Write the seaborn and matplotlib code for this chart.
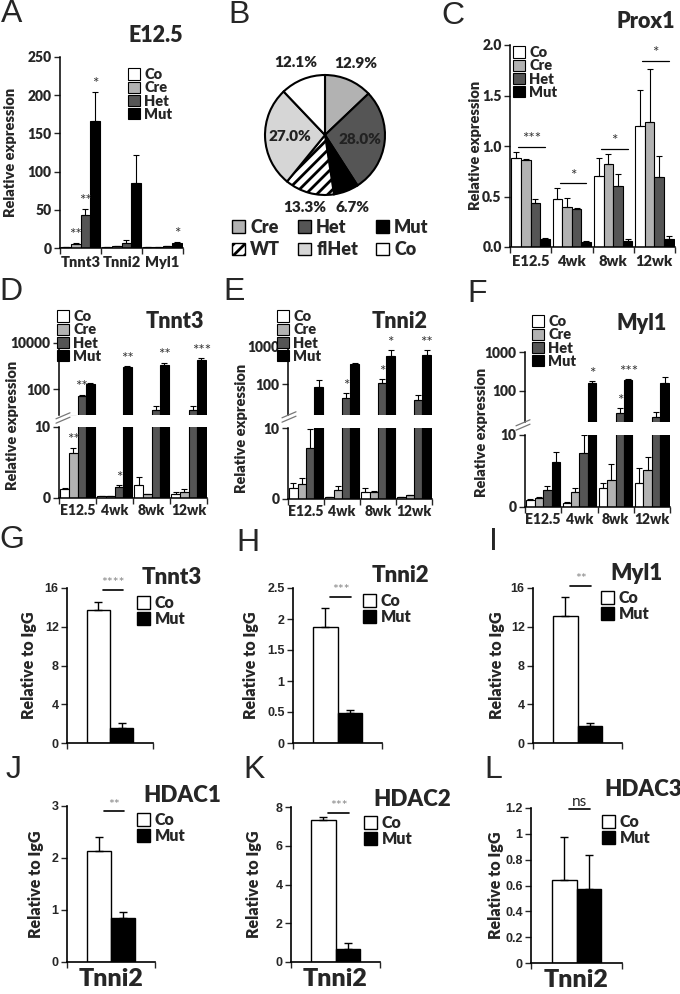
import numpy as np
import pandas as pd
import matplotlib
matplotlib.use('Agg')
import matplotlib.pyplot as plt
from matplotlib.patches import Patch
from matplotlib.lines import Line2D
from matplotlib.ticker import NullLocator
import seaborn as sns

# ---------------- data ----------------
genos = ['Co', 'Cre', 'Het', 'Mut']
geno_colors = ['#ffffff', '#b2b2b2', '#555555', '#000000']

# A: E12.5 expression
a_genes = ['Tnnt3', 'Tnni2', 'Myl1']
a_mean = {'Co': [1.0, 1.0, 1.0], 'Cre': [5.5, 2.0, 1.0], 'Het': [43, 7.0, 2.0], 'Mut': [166, 85, 6.0]}
a_err = {'Co': [0.3, 0.3, 0.2], 'Cre': [1.5, 0.8, 0.3], 'Het': [8, 3.0, 0.7], 'Mut': [38, 37, 2.0]}
a_stars = [('Tnnt3', 'Cre', '**'), ('Tnnt3', 'Het', '**'), ('Tnnt3', 'Mut', '*'), ('Myl1', 'Mut', '*')]

# B: genotype distribution
pie_labels = ['Cre', 'Het', 'Mut', 'WT', 'flHet', 'Co']
pie_pct = [12.9, 28.0, 6.7, 13.3, 27.0, 12.1]
pie_colors = ['#b2b2b2', '#555555', '#000000', '#ffffff', '#d6d6d6', '#ffffff']

# C: Prox1
ages = ['E12.5', '4wk', '8wk', '12wk']
c_mean = {'Co': [0.88, 0.48, 0.70, 1.20], 'Cre': [0.86, 0.40, 0.82, 1.24],
          'Het': [0.44, 0.38, 0.60, 0.69], 'Mut': [0.08, 0.05, 0.06, 0.08]}
c_err = {'Co': [0.06, 0.10, 0.18, 0.35], 'Cre': [0.01, 0.09, 0.10, 0.52],
         'Het': [0.04, 0.005, 0.12, 0.21], 'Mut': [0.01, 0.005, 0.02, 0.03]}
c_sig_y = [0.99, 0.63, 0.97, 1.84]
c_sig = ['***', '*', '*', '*']

# D: Tnnt3
d_mean = {'Co': [1.2, 0.3, 1.8, 0.5], 'Cre': [6.3, 0.3, 0.5, 0.8],
          'Het': [52, 1.5, 12.6, 13], 'Mut': [175, 940, 1100, 1900]}
d_err = {'Co': [0.2, 0.05, 1.2, 0.3], 'Cre': [0.8, 0.05, 0.1, 0.4],
         'Het': [8, 0.3, 6.5, 6], 'Mut': [18, 60, 290, 300]}
d_stars = [('E12.5', 'Cre', '**'), ('E12.5', 'Het', '**'), ('4wk', 'Het', '*'),
           ('4wk', 'Mut', '**'), ('8wk', 'Mut', '**'), ('12wk', 'Mut', '***')]

# E: Tnni2
e_mean = {'Co': [1.6, 0.3, 1.0, 0.3], 'Cre': [2.1, 1.3, 1.0, 0.5],
          'Het': [7.2, 42, 110, 38], 'Mut': [87, 360, 565, 600]}
e_err = {'Co': [0.6, 0.05, 0.5, 0.05], 'Cre': [0.9, 0.6, 0.1, 0.1],
         'Het': [2.7, 15, 25, 14], 'Mut': [43, 15, 250, 215]}
e_stars = [('4wk', 'Het', '*'), ('8wk', 'Het', '*'), ('8wk', 'Mut', '*'), ('12wk', 'Mut', '**')]

# F: Myl1
f_mean = {'Co': [1.0, 0.6, 2.7, 3.3], 'Cre': [1.2, 2.1, 3.8, 5.2],
          'Het': [2.3, 7.5, 27, 22], 'Mut': [6.3, 157, 190, 157]}
f_err = {'Co': [0.05, 0.1, 0.6, 2.1], 'Cre': [0.15, 0.5, 2.2, 1.7],
         'Het': [0.6, 2.5, 9, 7], 'Mut': [1.3, 20, 8, 70]}
f_stars = [('4wk', 'Mut', '*'), ('8wk', 'Het', '*'), ('8wk', 'Mut', '***')]

# G-L: ChIP, relative to IgG
chip_titles = ['Tnnt3', 'Tnni2', 'Myl1', 'HDAC1', 'HDAC2', 'HDAC3']
chip_xlabel = ['', '', '', 'Tnni2', 'Tnni2', 'Tnni2']
chip_co = [13.7, 1.87, 13.1, 2.13, 7.32, 0.645]
chip_co_err = [0.9, 0.30, 2.0, 0.28, 0.15, 0.33]
chip_mut = [1.6, 0.49, 1.8, 0.84, 0.65, 0.57]
chip_mut_err = [0.5, 0.05, 0.3, 0.12, 0.35, 0.265]
chip_sig = ['****', '***', '**', '**', '***', 'ns']
chip_sig_y = [15.8, 2.36, 16.2, 2.90, 7.71, 1.19]
chip_ymax = [16, 2.5, 16, 3, 8, 1.2]
chip_ystep = [4, 0.5, 4, 1, 2, 0.2]

# ---------------- style ----------------
W, H = 680, 994
sns.set_style('ticks')
plt.rcParams['font.family'] = ['Lato', 'DejaVu Sans']
plt.rcParams['hatch.linewidth'] = 2.0
ARIAL = ['Liberation Sans', 'DejaVu Sans']
BW = 'heavy'

fig = plt.figure(figsize=(W / 100, H / 100), dpi=100)


def add_ax(x0, y0, x1, y1):
    return fig.add_axes([x0 / W, 1 - y1 / H, (x1 - x0) / W, (y1 - y0) / H])


def fxy(x, y):
    return x / W, 1 - y / H


def grouped_bars(ax, cats, mean, err, width=0.93):
    df = pd.DataFrame([(c, g, mean[g][i]) for g in genos for i, c in enumerate(cats)],
                      columns=['cat', 'geno', 'val'])
    sns.barplot(data=df, x='cat', y='val', hue='geno', order=cats, hue_order=genos,
                palette=geno_colors, saturation=1, edgecolor='black', linewidth=0.8,
                errorbar=None, width=width, legend=False, ax=ax)
    tops = {}
    for g, cont in zip(genos, list(ax.containers)):
        for i, bar in enumerate(cont):
            x = bar.get_x() + bar.get_width() / 2
            ax.errorbar(x, mean[g][i], yerr=[[0], [err[g][i]]], fmt='none', ecolor='black',
                        elinewidth=0.8, capsize=2, capthick=0.8)
            tops[(cats[i], g)] = (x, mean[g][i] + err[g][i])
    return tops


def style_cat_axis(ax, cats, pad, fs=10.5):
    sns.despine(ax=ax)
    for s in ['left', 'bottom']:
        ax.spines[s].set_linewidth(1.1)
        ax.spines[s].set_color('black')
    ax.set_xlim(-0.5, len(cats) - 0.5)
    ax.set_xticks(range(len(cats)), labels=cats, fontsize=fs, fontweight=BW)
    ax.set_xticks(np.arange(len(cats) + 1) - 0.5, minor=True)
    ax.tick_params(axis='x', which='major', length=0, pad=pad)
    ax.tick_params(axis='x', which='minor', length=4, width=1, direction='out')
    ax.tick_params(axis='y', which='major', length=4, width=1, direction='out', pad=2)
    ax.set_xlabel('')


def geno_legend(ax, x, y):
    handles = [Patch(facecolor=c, edgecolor='black', linewidth=0.8) for c in geno_colors]
    ax.legend(handles, genos, loc='upper left', bbox_to_anchor=fxy(x, y),
              bbox_transform=fig.transFigure, frameon=False,
              prop={'weight': BW, 'size': 10.5}, handlelength=0.8, handleheight=0.8,
              handletextpad=0.3, labelspacing=0.02, borderpad=0, borderaxespad=0)


def star(ax, x, y, txt, fs=11, color='#333333'):
    ax.annotate(txt, (x, y), xytext=(0, 0.5), textcoords='offset points', ha='center',
                va='bottom', fontsize=fs, color=color, annotation_clip=False)


def title(x, y, txt, fs=15.5):
    fig.text(*fxy(x, y), txt, ha='center', va='center', fontsize=fs, fontweight=BW)


def ylabel(ax, txt, xpx, ypx, box, fs=10.5):
    x0, y0, x1, y1 = box
    ax.set_ylabel(txt, fontsize=fs, fontweight=BW, va='center')
    ax.yaxis.set_label_coords((xpx - x0) / (x1 - x0), (y1 - ypx) / (y1 - y0))


# ---------------- A ----------------
box = (60, 57, 183, 248)
ax = add_ax(*box)
tops = grouped_bars(ax, a_genes, a_mean, a_err)
style_cat_axis(ax, a_genes, pad=6)
ax.set_ylim(0, 250)
ax.set_yticks(range(0, 251, 50), labels=[str(v) for v in range(0, 251, 50)],
              fontsize=10, fontweight=BW)
for cat, g, txt in a_stars:
    star(ax, *tops[(cat, g)], txt)
ylabel(ax, 'Relative expression', 10, 152, box)
geno_legend(ax, 128, 68)
title(156, 35, 'E12.5')

# ---------------- B ----------------
axp = add_ax(225, 35, 425, 235)
wedges, _ = axp.pie(pie_pct, colors=pie_colors, startangle=90, counterclock=False,
                    wedgeprops=dict(edgecolor='black', linewidth=1.5))
wedges[pie_labels.index('WT')].set_hatch('///')
axp.set_xlim(-1.667, 1.667)
axp.set_ylim(-1.667, 1.667)
axp.set_aspect('equal')
label_r = [1.3, 0.58, 1.3, 1.25, 0.58, 1.3]
for w, pct, r in zip(wedges, pie_pct, label_r):
    ang = np.deg2rad((w.theta1 + w.theta2) / 2)
    axp.text(r * np.cos(ang), r * np.sin(ang), f'{pct:.1f}%', ha='center', va='center',
             fontsize=11, fontweight=BW, color='#222222')
order = [i + 3 * r for i in range(3) for r in range(2)]
pie_handles = [Patch(facecolor=pie_colors[i], edgecolor='black', linewidth=1.0,
                     hatch='///' if pie_labels[i] == 'WT' else None) for i in order]
axp.legend(pie_handles, [pie_labels[i] for i in order], ncol=3, loc='upper left',
           bbox_to_anchor=fxy(232, 219), bbox_transform=fig.transFigure, frameon=False,
           prop={'weight': BW, 'size': 13}, handlelength=0.7, handleheight=0.7,
           handletextpad=0.3, labelspacing=0.3, columnspacing=1.0, borderpad=0,
           borderaxespad=0)

# ---------------- C ----------------
box = (510, 45, 675, 247)
ax = add_ax(*box)
grouped_bars(ax, ages, c_mean, c_err)
style_cat_axis(ax, ages, pad=6)
ax.set_ylim(0, 2.0)
yt = np.arange(0, 2.01, 0.5)
ax.set_yticks(yt, labels=[f'{v:.1f}' for v in yt], fontsize=10, fontweight=BW)
for i, (y, txt) in enumerate(zip(c_sig_y, c_sig)):
    ax.plot([i - 0.3, i + 0.35], [y, y], color='black', lw=0.9)
    star(ax, i + 0.025, y, txt)
ylabel(ax, 'Relative expression', 476, 145, box)
geno_legend(ax, 513, 46)
title(646, 22, 'Prox1')


# ---------------- D-F (broken axes) ----------------
def broken_panel(up_box, lo_box, mean, err, up_lim, up_ticks, stars, lab_xy, tit, tit_xy,
                 leg_xy, brk_xy, pad):
    ax_u = add_ax(*up_box)
    ax_l = add_ax(*lo_box)
    tops = grouped_bars(ax_u, ages, mean, err)
    grouped_bars(ax_l, ages, mean, err)
    ax_u.set_yscale('log')
    ax_u.set_ylim(*up_lim)
    ax_u.yaxis.set_minor_locator(NullLocator())
    ax_u.set_yticks(up_ticks, labels=[str(t) for t in up_ticks], fontsize=10, fontweight=BW)
    sns.despine(ax=ax_u, bottom=True)
    ax_u.spines['left'].set_linewidth(1.1)
    ax_u.spines['left'].set_color('black')
    ax_u.set_xlim(-0.5, len(ages) - 0.5)
    ax_u.tick_params(axis='x', which='both', bottom=False, labelbottom=False)
    ax_u.tick_params(axis='y', length=4, width=1, direction='out', pad=2)
    ax_u.set_xlabel('')
    ax_u.set_ylabel('')

    style_cat_axis(ax_l, ages, pad=pad, fs=10)
    ax_l.set_ylim(0, 10)
    ax_l.set_yticks([0, 10], labels=['0', '10'], fontsize=10, fontweight=BW)
    for cat, g, txt in stars:
        x, top = tops[(cat, g)]
        star(ax_u if top > 10 else ax_l, x, top, txt)
    ylabel(ax_l, 'Relative expression', lab_xy[0], lab_xy[1], lo_box)
    geno_legend(ax_u, *leg_xy)
    title(*tit_xy, tit)
    cx, cy = brk_xy
    for d in (-2.2, 2.2):
        fig.add_artist(Line2D([(cx - 7) / W, (cx + 7) / W],
                              [1 - (cy + d + 3) / H, 1 - (cy + d - 3) / H],
                              color='#777777', lw=0.9))


broken_panel((59, 343, 207, 415), (59, 427, 207, 498), d_mean, d_err, (8, 10000),
             [100, 10000], d_stars, (13, 425), 'Tnnt3', (175, 322), (57, 310), (63, 418), 4)
broken_panel((288, 347, 432, 415), (288, 428, 432, 499), e_mean, e_err, (15, 1000),
             [100, 1000], e_stars, (242, 428), 'Tnni2', (400, 322), (277, 310), (289, 417), 4)
broken_panel((525, 352, 670, 422), (525, 435, 670, 507), f_mean, f_err, (16, 1000),
             [100, 1000], f_stars, (481, 432), 'Myl1', (642, 323), (532, 315), (523, 425), 4)

# ---------------- G-L ----------------
chip_boxes = [(67, 588, 153, 743), (293, 588, 382, 743), (533, 588, 622, 743),
              (67, 806, 155, 962), (291, 807, 380, 962), (531, 808, 622, 963)]
chip_title_xy = [(172, 577), (400, 575), (636, 573), (182, 795), (412, 800), (643, 790)]
chip_leg_xy = [(137, 595), (363, 593), (601, 590), (137, 812), (364, 815), (602, 814)]
chip_lab_x = [29, 251, 497, 36, 254, 496]

for k in range(6):
    box = chip_boxes[k]
    ax = add_ax(*box)
    df = pd.DataFrame({'target': [chip_xlabel[k] or chip_titles[k]] * 2,
                       'geno': ['Co', 'Mut'], 'val': [chip_co[k], chip_mut[k]]})
    sns.barplot(data=df, x='target', y='val', hue='geno', hue_order=['Co', 'Mut'],
                palette=['#ffffff', '#000000'], saturation=1, edgecolor='black',
                linewidth=1.0, errorbar=None, width=0.54, legend=False, ax=ax)
    errs = [chip_co_err[k], chip_mut_err[k]]
    vals = [chip_co[k], chip_mut[k]]
    for cont, v, e in zip(list(ax.containers), vals, errs):
        bar = cont[0]
        ax.errorbar(bar.get_x() + bar.get_width() / 2, v, yerr=[[0], [e]], fmt='none',
                    ecolor='black', elinewidth=1.0, capsize=3, capthick=1.0)
    sns.despine(ax=ax)
    for s in ['left', 'bottom']:
        ax.spines[s].set_linewidth(1.2)
        ax.spines[s].set_color('black')
    ax.set_xlim(-0.5, 0.5)
    ax.set_ylim(0, chip_ymax[k])
    yt = np.round(np.arange(0, chip_ymax[k] + chip_ystep[k] / 2, chip_ystep[k]), 2)
    ax.set_yticks(yt, labels=[f'{v:g}' for v in yt], fontsize=9, fontweight='bold', family=ARIAL)
    ax.set_xticks([0], labels=[chip_xlabel[k]], fontsize=18, fontweight=BW)
    ax.set_xticks([-0.5, 0.5], minor=True)
    ax.tick_params(axis='x', which='major', length=0, pad=4)
    ax.tick_params(axis='x', which='minor', length=4, width=1, direction='out')
    ax.tick_params(axis='y', length=4, width=1, direction='out', pad=2)
    ax.set_xlabel('')
    ylabel(ax, 'Relative to IgG', chip_lab_x[k], (box[1] + box[3]) / 2, box, fs=11.5)
    y = chip_sig_y[k]
    ax.plot([-0.08, 0.15], [y, y], color='black', lw=1.2, clip_on=False)
    if chip_sig[k] == 'ns':
        star(ax, 0.035, y, 'ns', fs=11, color='#222222')
    else:
        star(ax, 0.035, y, chip_sig[k], fs=10, color='#888888')
    handles = [Patch(facecolor=c, edgecolor='black', linewidth=1.0) for c in ['#ffffff', '#000000']]
    ax.legend(handles, ['Co', 'Mut'], loc='upper left', bbox_to_anchor=fxy(*chip_leg_xy[k]),
              bbox_transform=fig.transFigure, frameon=False,
              prop={'weight': BW, 'size': 11.5}, handlelength=0.8, handleheight=0.8,
              handletextpad=0.3, labelspacing=0.0, borderpad=0, borderaxespad=0)
    title(*chip_title_xy[k], chip_titles[k], fs=16)

# panel letters
letters = {'A': (12, 14), 'B': (239, 15), 'C': (453, 16), 'D': (11, 292), 'E': (234, 292),
           'F': (477, 294), 'G': (12, 540), 'H': (248, 543), 'I': (493, 542),
           'J': (14, 770), 'K': (254, 770), 'L': (493, 770)}
for lt, (x, y) in letters.items():
    fig.text(*fxy(x, y), lt, ha='center', va='center', fontsize=23, family=ARIAL)

fig.savefig('out.png', dpi=100)
